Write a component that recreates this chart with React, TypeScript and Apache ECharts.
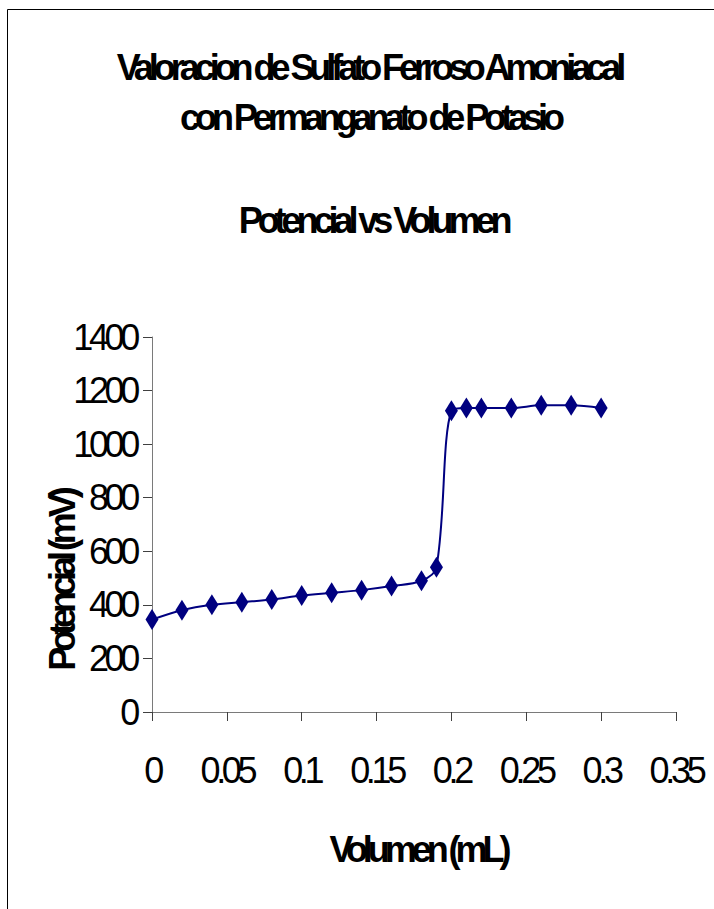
import React, { useEffect, useRef } from "react";
import * as echarts from "echarts";

// ---- data ----
const volumes = [0, 0.02, 0.04, 0.06, 0.08, 0.1, 0.12, 0.14, 0.16, 0.18, 0.19, 0.2, 0.21, 0.22, 0.24, 0.26, 0.28, 0.3];
const potentials = [345, 380, 400, 410, 420, 435, 445, 455, 470, 490, 540, 1125, 1135, 1135, 1135, 1145, 1145, 1135];

const xMin = 0;
const xMax = 0.35;
const xStep = 0.05;
const yMin = 0;
const yMax = 1400;
const yStep = 200;

const titleLines = [
  "Valoracion de Sulfato Ferroso Amoniacal",
  "con Permanganato de Potasio",
  "Potencial vs Volumen",
];
const yAxisTitle = "Potencial (mV)";
const xAxisTitle = "Volumen (mL)";

const css = `
.chart-host svg text { letter-spacing: -0.12em; }
.chart-host svg text[style*="bold"] { letter-spacing: -0.14em; }
`;

export default function App() {
  const ref = useRef<HTMLDivElement>(null);

  useEffect(() => {
    if (!ref.current) return;
    const chart = echarts.init(ref.current, null, { renderer: "svg" });

    const boldText = (text: string, x: number, y: number, rotation = 0) => ({
      type: "text",
      x,
      y,
      rotation,
      silent: true,
      style: {
        text,
        fill: "#000",
        fontFamily: "Liberation Sans, Arial, sans-serif",
        fontSize: 36,
        fontWeight: "bold",
        align: "center",
        verticalAlign: "middle",
      },
    });

    const axisCommon = {
      axisLine: { show: true, lineStyle: { color: "#7a7a7a", width: 1 } },
      axisTick: { show: true, length: 9, lineStyle: { color: "#404040", width: 1 } },
      splitLine: { show: false },
    };

    const fmt = (v: number) => String(+v.toFixed(2));

    chart.setOption({
      animation: false,
      backgroundColor: "#ffffff",
      grid: { left: 152, right: 34, top: 337, bottom: 197, containLabel: false },
      xAxis: {
        type: "value",
        min: xMin,
        max: xMax,
        interval: xStep,
        ...axisCommon,
        axisLabel: {
          color: "#000",
          fontFamily: "Liberation Sans, Arial, sans-serif",
          fontSize: 36,
          margin: 40,
          showMaxLabel: true,
          showMinLabel: true,
          formatter: fmt,
        },
      },
      yAxis: {
        type: "value",
        min: yMin,
        max: yMax,
        interval: yStep,
        ...axisCommon,
        axisLabel: {
          color: "#000",
          fontFamily: "Liberation Sans, Arial, sans-serif",
          fontSize: 36,
          margin: 16,
          formatter: fmt,
        },
      },
      series: [
        {
          type: "line",
          data: volumes.map((v, i) => [v, potentials[i]]),
          smooth: 0.35,
          clip: false,
          symbol: "diamond",
          symbolSize: [13, 21],
          itemStyle: { color: "#000080" },
          lineStyle: { color: "#000080", width: 2 },
        },
      ],
      graphic: [
        {
          type: "rect",
          silent: true,
          shape: { x: 7.5, y: 9.5, width: 900, height: 1100 },
          style: { fill: "none", stroke: "#000", lineWidth: 1 },
        },
        boldText(titleLines[0], 369, 67),
        boldText(titleLines[1], 370, 117),
        boldText(titleLines[2], 373, 220),
        boldText(yAxisTitle, 62, 581, Math.PI / 2),
        boldText(xAxisTitle, 418, 849),
      ],
    });

    return () => chart.dispose();
  }, []);

  return (
    <>
      <style>{css}</style>
      <div
        ref={ref}
        className="chart-host"
        style={{ position: "fixed", left: 0, top: 0, width: 714, height: 909, background: "#fff" }}
      />
    </>
  );
}
